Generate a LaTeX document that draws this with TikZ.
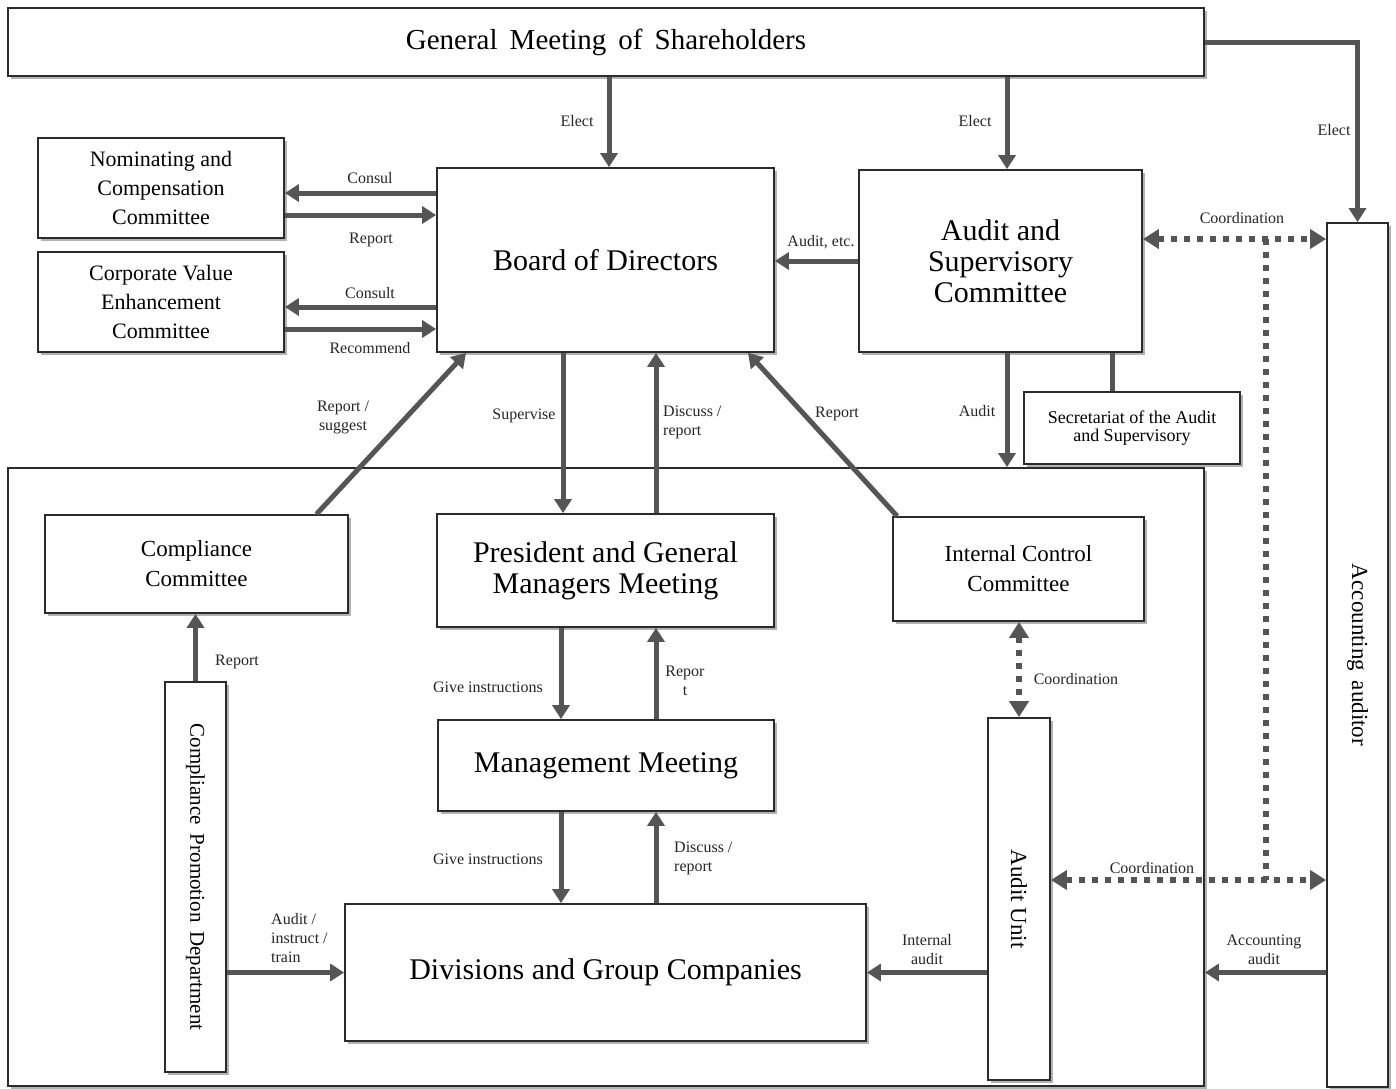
\documentclass[tikz,border=0pt]{standalone}
\usepackage{fontspec}
\usepackage{graphicx}
\setmainfont{Liberation Serif}
\usetikzlibrary{arrows.meta,shadows,calc}
\definecolor{lg}{HTML}{555555}
\definecolor{bd}{HTML}{2B2B2B}
\begin{document}
\begin{tikzpicture}[x=1pt,y=-1pt,
  orgbox/.style={draw=bd, line width=1.8pt, fill=white, align=center, inner sep=0pt,
    drop shadow={shadow xshift=2.5pt, shadow yshift=-2.5pt, fill=black, opacity=0.3}},
  arr/.style={draw=lg, line width=5pt, -{Triangle[length=14pt,width=17pt]}},
  plainlink/.style={draw=lg, line width=5pt},
  dotline/.style={draw=lg, line width=6pt, dash pattern=on 6pt off 7pt},
  coordarrow/.style={draw=lg, line width=6pt, dash pattern=on 6pt off 7pt,
    {Triangle[length=16pt,width=19pt]}-{Triangle[length=16pt,width=19pt]}},
  lbl/.style={font=\fontsize{16}{19}\selectfont, align=center, text=black!85, inner sep=1pt},
  big/.style={font=\fontsize{30}{31}\selectfont},
  mid/.style={font=\fontsize{22}{29}\selectfont},
]
\fill[white] (0,0) rectangle (1396,1088);
\useasboundingbox (0,0) rectangle (1396,1088);

% frame of the executive organisation
\node[orgbox, minimum width=1196pt, minimum height=618pt] (org) at (606,777) {};

% boxes
\node[orgbox, minimum width=1196pt, minimum height=68pt, font=\fontsize{29}{31}\selectfont] (gms) at (606,42) {General\, Meeting\, of\, Shareholders};
\node[orgbox, minimum width=246pt, minimum height=100pt, mid] (nom) at (161,188) {Nominating and\\Compensation\\Committee};
\node[orgbox, minimum width=246pt, minimum height=100pt, mid] (cve) at (161,302) {Corporate Value\\Enhancement\\Committee};
\node[orgbox, minimum width=337pt, minimum height=184pt, big] (bod) at (605.5,260) {Board of Directors};
\node[orgbox, minimum width=283pt, minimum height=182pt, big] (asc) at (1000.5,261) {Audit and\\Supervisory\\Committee};
\node[orgbox, minimum width=216pt, minimum height=72pt, font=\fontsize{18}{18}\selectfont] (sec) at (1132,428) {Secretariat of the Audit\\and Supervisory};
\node[orgbox, minimum width=61pt, minimum height=864pt, font=\fontsize{23}{25}\selectfont] (acc) at (1357.5,655) {\rotatebox{-90}{Accounting\, auditor}};
\node[orgbox, minimum width=303pt, minimum height=98pt, font=\fontsize{23}{30}\selectfont] (cc) at (196.5,564) {Compliance\\Committee};
\node[orgbox, minimum width=337pt, minimum height=113pt, big] (pgm) at (605.5,570.5) {President and General\\Managers Meeting};
\node[orgbox, minimum width=251pt, minimum height=104pt, font=\fontsize{23}{30}\selectfont] (icc) at (1018.5,569) {Internal Control\\Committee};
\node[orgbox, minimum width=336pt, minimum height=91pt, big] (mm) at (606,765.5) {Management Meeting};
\node[orgbox, minimum width=61pt, minimum height=390pt, font=\fontsize{21}{23}\selectfont] (cpd) at (195.5,877) {\rotatebox{-90}{Compliance\, Promotion\, Department}};
\node[orgbox, minimum width=521pt, minimum height=137pt, big] (div) at (605.5,972.5) {Divisions and Group Companies};
\node[orgbox, minimum width=62pt, minimum height=362pt, font=\fontsize{23}{25}\selectfont] (au) at (1019,899) {\rotatebox{-90}{Audit Unit}};

% lanes
\coordinate (v561) at (561,0);
\coordinate (v563) at (563,0);
\coordinate (v609) at (609,0);
\coordinate (v656) at (656,0);
\coordinate (v1007) at (1007,0);
\coordinate (v1112) at (1112,0);
\coordinate (v1266) at (1266,0);
\coordinate (h193) at (0,193);
\coordinate (h215) at (0,215);
\coordinate (h239) at (0,239);
\coordinate (h307) at (0,307);
\coordinate (h329) at (0,329);
\coordinate (h880) at (0,880);

% connectors
\draw[arr] (gms.south -| v609) -- (bod.north -| v609);
\draw[arr] (gms.south -| v1007) -- (asc.north -| v1007);
\draw[arr] (gms.east) -| (acc.north);
\draw[arr] (bod.west |- h193) -- (nom.east |- h193);
\draw[arr] (nom.east |- h215) -- (bod.west |- h215);
\draw[arr] (bod.west |- h307) -- (cve.east |- h307);
\draw[arr] (cve.east |- h329) -- (bod.west |- h329);
\draw[arr] (asc.west) -- (bod.east |- asc.west);
\draw[dotline] (v1266 |- h239) -- (v1266 |- h880);
\draw[coordarrow] (asc.east |- h239) -- (acc.west |- h239);
\draw[coordarrow] (au.east |- h880) -- (acc.west |- h880);
\draw[arr] (asc.south -| v1007) -- (org.north -| v1007);
\draw[plainlink] (asc.south -| v1112) -- (sec.north -| v1112);
\draw[arr] ([xshift=120pt]cc.north) -- ([xshift=-139.5pt]bod.south);
\draw[arr] (bod.south -| v563) -- (pgm.north -| v563);
\draw[arr] (pgm.north -| v656) -- (bod.south -| v656);
\draw[arr] ([xshift=5pt]icc.north west) -- ([xshift=142.5pt]bod.south);
\draw[arr] (pgm.south -| v561) -- (mm.north -| v561);
\draw[arr] (mm.north -| v656) -- (pgm.south -| v656);
\draw[arr] (mm.south -| v561) -- (div.north -| v561);
\draw[arr] (div.north -| v656) -- (mm.south -| v656);
\draw[arr] (cpd.north) -- (cc.south -| cpd.north);
\draw[arr] (cpd.east |- div.west) -- (div.west);
\draw[coordarrow] (icc.south -| au.north) -- (au.north);
\draw[arr] (au.west |- div.east) -- (div.east);
\draw[arr] (acc.west |- div.east) -- (org.east |- div.east);

% labels
\node[lbl] (l1) at (577,121) {Elect};
\node[lbl] (l2) at (975,121) {Elect};
\node[lbl] (l3) at (1334,130) {Elect};
\node[lbl] (l4) at (370,178) {Consul};
\node[lbl] (l5) at (371,240) {Report};
\node[lbl] (l6) at (370,293) {Consult};
\node[lbl] (l7) at (370,348) {Recommend};
\node[lbl] (l8) at (821,242) {Audit, etc.};
\node[lbl] (l9) at (1242,218) {Coordination};
\node[lbl] (l10) at (977,411) {Audit};
\node[lbl] (l11) at (343,417) {Report /\\suggest};
\node[lbl] (l12) at (524,416) {Supervise};
\node[lbl, align=left, anchor=west] (l13) at (662,422) {Discuss /\\report};
\node[lbl] (l14) at (837,414) {Report};
\node[lbl] (l15) at (488,687) {Give instructions};
\node[lbl] (l16) at (685,681) {Repor\\t};
\node[lbl] (l17) at (488,859) {Give instructions};
\node[lbl, align=left, anchor=west] (l18) at (673,858) {Discuss /\\report};
\node[lbl] (l19) at (237,662) {Report};
\node[lbl, align=left, anchor=west] (l20) at (270,938) {Audit /\\instruct /\\train};
\node[lbl] (l21) at (1076,679) {Coordination};
\node[lbl] (l22) at (927,950) {Internal\\audit};
\node[lbl] (l23) at (1264,950) {Accounting\\audit};
\node[lbl] (l24) at (1152,868) {Coordination};
\end{tikzpicture}
\end{document}
